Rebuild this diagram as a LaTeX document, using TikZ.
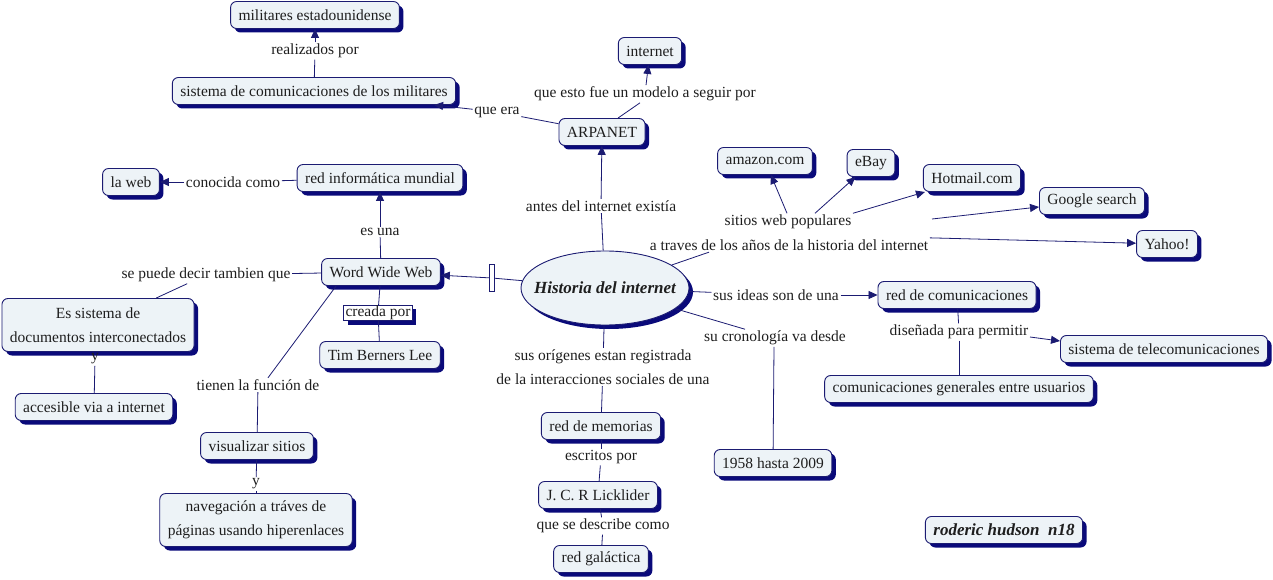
\documentclass[tikz,border=0pt]{standalone}
\usepackage{fontspec}
\setmainfont{Liberation Serif}
\usetikzlibrary{shadows,arrows.meta,shapes.geometric}
\definecolor{boxfill}{HTML}{EDF3F7}
\definecolor{navy}{HTML}{1B1B72}
\definecolor{shad}{HTML}{0A0A7A}
\definecolor{txt}{HTML}{1E1E1E}
\newcommand\dfont{\fontsize{15.5}{24}\selectfont}
\newcommand\bfont{\fontsize{17}{24}\selectfont\bfseries\itshape}
\tikzset{
  concept/.style={draw=navy, line width=0.9pt, fill=boxfill, rounded corners=6pt,
    inner xsep=8pt, inner ysep=0pt, minimum height=27pt, text=txt, font=\dfont,
    drop shadow={shadow xshift=4pt, shadow yshift=-4pt, fill=shad, opacity=1}},
  lbl/.style={inner sep=1.5pt, text=txt, font=\dfont},
  link/.style={draw=navy, line width=0.8pt},
  arr/.style={link, -{Triangle[length=9pt,width=8pt]}},
}
\begin{document}
\begin{tikzpicture}[x=1pt,y=-1pt]
\useasboundingbox (0,0) rectangle (1273,580);
\fill[white] (0,0) rectangle (1273,580);
% concepts
\node[concept] (mil) at (315,15) {militares estadounidense};
\node[concept] (sis) at (314,91) {sistema de comunicaciones de los militares};
\node[concept] (inet) at (650,51) {internet};
\node[concept] (arp) at (602,132) {ARPANET};
\node[concept] (rim) at (380,178) {red informática mundial};
\node[concept] (web) at (131,182) {la web};
\node[concept] (amz) at (765,161) {amazon.com};
\node[concept] (ebay) at (871,163) {eBay};
\node[concept] (hot) at (972,178) {Hotmail.com};
\node[concept] (goo) at (1092,201) {Google search};
\node[concept] (yah) at (1167,244) {Yahoo!};
\node[concept] (www) at (381,272) {Word Wide Web};
\node[ellipse, draw=navy, line width=0.9pt, fill=boxfill, minimum width=168pt, minimum height=74pt,
  inner sep=0pt, text=txt, font=\bfont,
  drop shadow={shadow xshift=4pt, shadow yshift=-4pt, fill=shad, opacity=1}] (hist) at (605,288) {\makebox[100pt]{Historia del internet}};
\node[concept] (rdc) at (957,295) {red de comunicaciones};
\node[concept, align=center, minimum height=53pt] (esd) at (98,325) {Es sistema de\\documentos interconectados};
\node[draw=navy, line width=0.8pt, fill=white, inner xsep=2pt, inner ysep=0.5pt, text=txt, font=\dfont,
  drop shadow={shadow xshift=4pt, shadow yshift=-4pt, fill=shad, opacity=1}] (cp) at (378,313) {creada por};
\node[concept] (tbl) at (380,355) {Tim Berners Lee};
\node[concept] (tel) at (1164,349) {sistema de telecomunicaciones};
\node[concept] (cge) at (959,389) {comunicaciones generales entre usuarios};
\node[concept] (acc) at (94,407) {accesible via a internet};
\node[concept] (rme) at (601,426) {red de memorias};
\node[concept] (vis) at (257,446) {visualizar sitios};
\node[concept] (y58) at (773,463) {1958 hasta 2009};
\node[concept, align=center, minimum height=53pt] (nav) at (256,520) {navegación a tráves de\\páginas usando hiperenlaces};
\node[concept] (jcr) at (598,495) {J. C. R Licklider};
\node[concept, font=\bfont] (rod) at (1004,530) {roderic hudson\ \ n18};
\node[concept] (rga) at (601,559) {red galáctica};
% linking phrases
\node[lbl] (lrp) at (315,51) {realizados por};
\node[lbl] (lqe) at (497,112) {que era};
\node[lbl] (lqf) at (645,94) {que esto fue un modelo a seguir por};
\node[lbl] (lcc) at (233,182) {conocida como};
\node[lbl] (lad) at (601,206) {antes del internet existía};
\node[lbl] (leu) at (380,232) {es una};
\node[lbl] (lsw) at (788,222) {sitios web populares};
\node[lbl] (lat) at (789,245) {a traves de los años de la historia del internet};
\node[lbl] (lpd) at (206,275) {se puede decir tambien que};
\node[lbl] (lsi) at (776,295) {sus ideas son de una};
\node[lbl] (lcr) at (775,338) {su cronología va desde};
\node[lbl] (ldp) at (959,332) {diseñada para permitir};
\node[lbl, align=center] (lso) at (603,367) {sus orígenes estan registrada\\de la interacciones sociales de una};
\node[lbl] (ltf) at (258,385) {tienen la función de};
\node[lbl] (ly1) at (95,359) {y};
\node[lbl] (ly2) at (256,484) {y};
\node[lbl] (lep) at (601,457) {escritos por};
\node[lbl] (lsd) at (603,526) {que se describe como};
\node[draw=navy, line width=0.8pt, fill=white, minimum width=5pt, minimum height=27pt, inner sep=0pt] (lem) at (492,278) {};
\coordinate (gsrc) at (932,219);
% connectors
\draw[link] (sis) -- (lrp); \draw[arr] (lrp) -- (mil);
\draw[link] (arp) -- (lqe); \draw[arr] (lqe) -- ([xshift=-22pt]sis.south east);
\draw[link] ([xshift=16pt]arp.north) -- ([xshift=-5pt]lqf.south); \draw[arr] (lqf) -- (inet);
\draw[link] (hist) -- (lad); \draw[arr] (lad) -- (arp);
\draw[link] (rim) -- (lcc); \draw[arr] (lcc) -- (web);
\draw[link] (www) -- (leu); \draw[arr] (leu) -- (rim);
\draw[link] (hist) -- (lem); \draw[arr] (lem) -- (www);
\draw[link] (www) -- (lpd); \draw[link] (lpd) -- (esd);
\draw[link] (esd) -- (ly1); \draw[link] (ly1) -- (acc);
\draw[link] (www) -- (cp); \draw[link] (cp) -- (tbl);
\draw[link] ([xshift=15pt]www.south west) -- ([xshift=10pt]ltf.north); \draw[link] (ltf) -- (vis);
\draw[link] (vis) -- (ly2); \draw[link] (ly2) -- (nav);
\draw[link] (hist) -- ([xshift=-80pt]lat.south);
\draw[arr] (lat.north east) -- (yah);
\draw[arr] (gsrc) -- (goo);
\draw[arr] ([xshift=-1pt]lsw.north) -- (amz);
\draw[arr] ([xshift=27pt]lsw.north) -- (ebay);
\draw[arr] (lsw.north east) -- (hot);
\draw[link] (hist) -- (lsi); \draw[arr] (lsi) -- (rdc);
\draw[link] (hist) -- ([xshift=-30pt]lcr.north); \draw[link] ([xshift=-1pt]lcr.south) -- (y58);
\draw[link] (rdc) -- (ldp); \draw[arr] ([yshift=-5pt]ldp.east) -- ([yshift=8pt]tel.west); \draw[link] (ldp) -- (cge);
\draw[link] (hist) -- (lso); \draw[link] (lso) -- (rme);
\draw[link] (rme) -- (lep); \draw[link] (lep) -- (jcr);
\draw[link] (jcr) -- (lsd); \draw[link] (lsd) -- (rga);
\end{tikzpicture}
\end{document}
